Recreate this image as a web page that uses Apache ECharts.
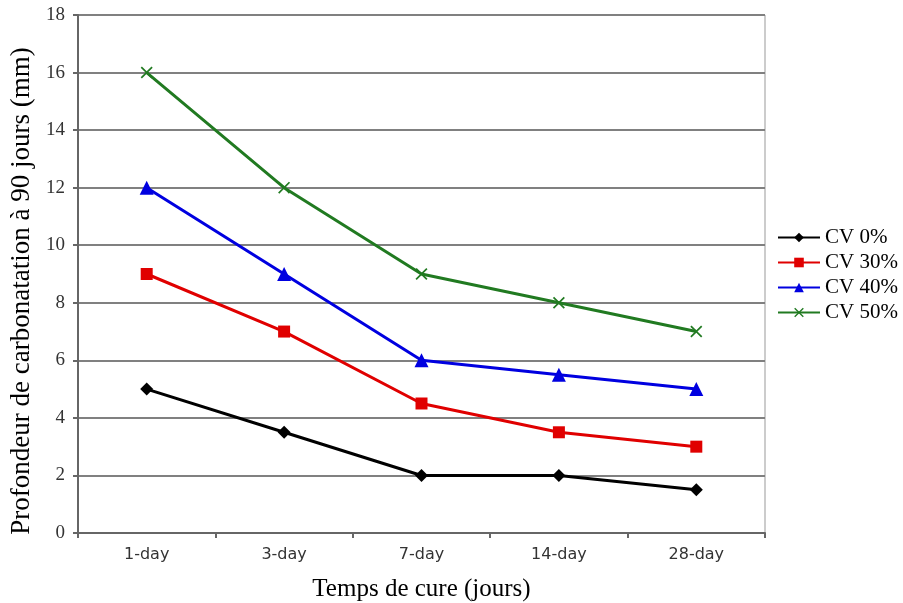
<!DOCTYPE html>
<html><head><meta charset="utf-8">
<script src="https://cdn.jsdelivr.net/npm/echarts@6/dist/echarts.min.js"></script>
<style>html,body{margin:0;padding:0;background:#fff}#c{width:903px;height:603px}</style>
</head><body><div id="c"></div>
<script>
const categories = ['1-day', '3-day', '7-day', '14-day', '28-day'];
const seriesNames = ['CV 0%', 'CV 30%', 'CV 40%', 'CV 50%'];
const cv0 = [5, 3.5, 2, 2, 1.5];
const cv30 = [9, 7, 4.5, 3.5, 3];
const cv40 = [12, 9, 6, 5.5, 5];
const cv50 = [16, 12, 9, 8, 7];
const yTicks = [0, 2, 4, 6, 8, 10, 12, 14, 16, 18];

const colors = ['#000000', '#e00000', '#0000e0', '#217a21'];
const symbols = ['diamond', 'rect', 'triangle',
  'path://M0,1 L1,0 L5,4 L9,0 L10,1 L6,5 L10,9 L9,10 L5,6 L1,10 L0,9 L4,5Z'];
const sizes = [13, 12, 14, 12];
const data = [cv0, cv30, cv40, cv50];

const chart = echarts.init(document.getElementById('c'));
chart.setOption({
  animation: false,
  backgroundColor: '#fff',
  grid: {left: 78, right: 138, top: 15, bottom: 70, containLabel: false, outerBoundsMode: 'none',
         show: true, borderColor: '#999', borderWidth: 1},
  legend: {
    orient: 'vertical', left: 777, top: 227, padding: 0, itemWidth: 42, itemHeight: 12, itemGap: 4,
    textStyle: {fontFamily: 'Liberation Serif', fontSize: 21, color: '#000'},
    data: seriesNames
  },
  xAxis: {
    type: 'category', data: categories, boundaryGap: true,
    name: 'Temps de cure (jours)', nameLocation: 'middle', nameGap: 44,
    nameTextStyle: {fontFamily: 'Liberation Serif', fontSize: 25, color: '#000'},
    axisLine: {lineStyle: {color: '#666', width: 2}},
    axisTick: {show: true, alignWithLabel: false, length: 5, lineStyle: {color: '#666', width: 2}},
    axisLabel: {fontFamily: 'DejaVu Sans', fontSize: 16, color: '#333', margin: 14}
  },
  yAxis: {
    type: 'value', min: yTicks[0], max: yTicks[yTicks.length - 1], interval: 2,
    name: 'Profondeur de carbonatation à 90 jours (mm)', nameLocation: 'middle', nameGap: 42,
    nameTextStyle: {fontFamily: 'Liberation Serif', fontSize: 27, color: '#000', padding: [0, 34, 0, 0]},
    axisLine: {show: true, lineStyle: {color: '#666', width: 2}},
    axisTick: {show: true, length: 5, lineStyle: {color: '#666', width: 2}},
    axisLabel: {fontFamily: 'Liberation Serif', fontSize: 19, color: '#333', margin: 13},
    splitLine: {show: true, lineStyle: {color: '#808080', width: 2}}
  },
  series: seriesNames.map((n, i) => ({
    name: n, type: 'line', data: data[i],
    symbol: symbols[i], symbolSize: sizes[i],
    lineStyle: {color: colors[i], width: 3},
    itemStyle: {color: colors[i]},
    emphasis: {disabled: true}
  }))
});
</script></body></html>
